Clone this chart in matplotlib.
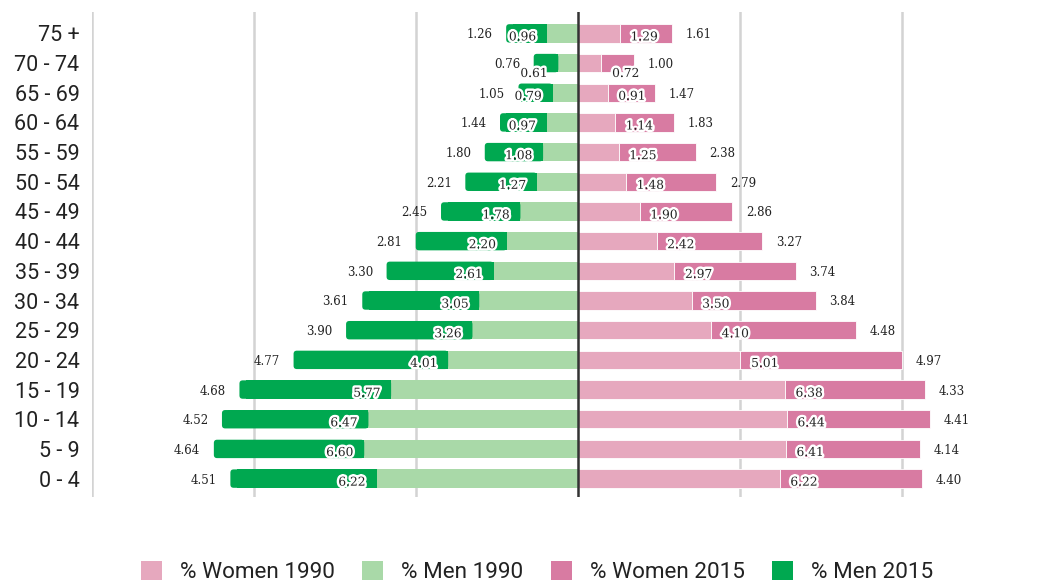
import matplotlib
matplotlib.use("Agg")
import matplotlib.pyplot as plt
import matplotlib.patheffects as pe
from matplotlib.patches import Patch, FancyBboxPatch
import numpy as np

age_groups = ["0 - 4", "5 - 9", "10 - 14", "15 - 19", "20 - 24", "25 - 29", "30 - 34",
              "35 - 39", "40 - 44", "45 - 49", "50 - 54", "55 - 59", "60 - 64",
              "65 - 69", "70 - 74", "75 +"]
women_1990 = [6.22, 6.41, 6.44, 6.38, 5.01, 4.10, 3.50, 2.97, 2.42, 1.90, 1.48, 1.25, 1.14, 0.91, 0.72, 1.29]
men_1990 = [6.22, 6.60, 6.47, 5.77, 4.01, 3.26, 3.05, 2.61, 2.20, 1.78, 1.27, 1.08, 0.97, 0.79, 0.61, 0.96]
women_2015 = [4.40, 4.14, 4.41, 4.33, 4.97, 4.48, 3.84, 3.74, 3.27, 2.86, 2.79, 2.38, 1.83, 1.47, 1.00, 1.61]
men_2015 = [4.51, 4.64, 4.52, 4.68, 4.77, 3.90, 3.61, 3.30, 2.81, 2.45, 2.21, 1.80, 1.44, 1.05, 0.76, 1.26]
series_names = ["% Women 1990", "% Men 1990", "% Women 2015", "% Men 2015"]

c_w90 = "#E6A8BE"
c_m90 = "#A9D9A8"
c_w15 = "#D87BA2"
c_m15 = "#00A850"

W, H = 1048, 584
fig = plt.figure(figsize=(W / 100, H / 100), dpi=100)
ax = fig.add_axes([92 / W, 1 - 497 / H, (W - 92) / W, (497 - 12) / H])

y = np.arange(len(age_groups))
w90 = np.array(women_1990)
m90 = np.array(men_1990)
w15 = np.array(women_2015)
m15 = np.array(men_2015)
bh = 0.62

ax.set_xlim(-15, 14.5)
ax.set_ylim(-0.62, 15.72)

ax.barh(y, w90, height=bh, color=c_w90, edgecolor="white", linewidth=0.6, zorder=3)
ax.barh(y, w15, left=w90, height=bh, color=c_w15, edgecolor="white", linewidth=0.6, zorder=3)
ax.barh(y, -m90, height=bh, color=c_m90, linewidth=0, zorder=3)
# dark green 2015 segments: square inner part + rounded outer end
ax.barh(y, -(m15 - 0.2), left=-m90, height=bh, color=c_m15, linewidth=0, zorder=3)
px_x = 32.4
px_y = 29.73
for i in range(len(y)):
    x0 = -m90[i] - m15[i]
    p = FancyBboxPatch((x0, y[i] - bh / 2), m15[i], bh,
                       boxstyle="round,pad=0,rounding_size=0.1",
                       mutation_aspect=px_x / px_y,
                       facecolor=c_m15, edgecolor="none", zorder=3)
    ax.add_patch(p)

for gx in [-15, -10, -5, 5, 10]:
    ax.axvline(gx, color="#D3D3D3", linewidth=1.8, zorder=1)
ax.axvline(0, color="#333333", linewidth=1.8, zorder=5)

ax.set_yticks(y)
ax.set_yticklabels(age_groups, fontfamily="Roboto", fontsize=15.5, color="#222222")
ax.tick_params(axis="y", length=0, pad=9)
ax.set_xticks([])
for s in ax.spines.values():
    s.set_visible(False)

in_font = dict(fontfamily="DejaVu Serif", fontsize=8.8, color="#222222")
out_font = dict(fontfamily="DejaVu Serif", fontsize=8.5, color="#222222")
stroke = [pe.withStroke(linewidth=3.5, foreground="white")]
for i in range(len(y)):
    dy = -0.12
    if age_groups[i] == "70 - 74":
        dy = -0.35
    # inner labels (1990 values)
    ax.text(-m90[i] - 0.33, y[i] + dy, f"{m90[i]:.2f}", ha="right", va="center",
            path_effects=stroke, zorder=6, **in_font)
    ax.text(w90[i] + 0.33, y[i] + dy, f"{w90[i]:.2f}", ha="left", va="center",
            path_effects=stroke, zorder=6, **in_font)
    # outer labels (2015 values)
    ax.text(-m90[i] - m15[i] - 0.42, y[i] - 0.05, f"{m15[i]:.2f}", ha="right", va="center",
            zorder=6, **out_font)
    ax.text(w90[i] + w15[i] + 0.42, y[i] - 0.05, f"{w15[i]:.2f}", ha="left", va="center",
            zorder=6, **out_font)

handles = [Patch(facecolor=c, edgecolor="none") for c in [c_w90, c_m90, c_w15, c_m15]]
leg = fig.legend(handles, series_names, loc="center", bbox_to_anchor=(537 / W, 1 - 572 / H),
                 ncol=4, frameon=False, handlelength=0.95, handleheight=0.95,
                 handletextpad=0.8, columnspacing=1.2,
                 prop={"family": "Roboto", "size": 16.2})
for t in leg.get_texts():
    t.set_color("#222222")

fig.savefig("out.png", dpi=100)
